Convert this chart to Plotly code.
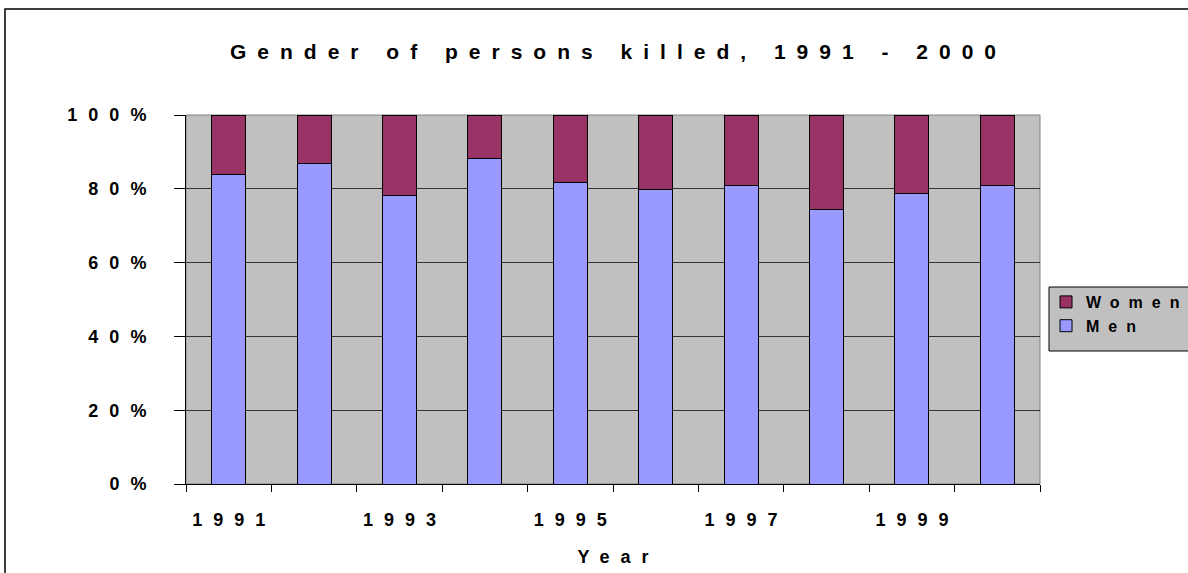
import plotly.graph_objects as go

years = [1991, 1992, 1993, 1994, 1995, 1996, 1997, 1998, 1999, 2000]
men = [0.839, 0.869, 0.783, 0.882, 0.817, 0.799, 0.808, 0.743, 0.788, 0.810]
women = [0.161, 0.131, 0.217, 0.118, 0.183, 0.201, 0.192, 0.257, 0.212, 0.190]
year_labels = [1991, 1993, 1995, 1997, 1999]
y_ticks = [0, 0.2, 0.4, 0.6, 0.8, 1.0]

FONT = "Liberation Sans, Arial, sans-serif"
W, H = 1188, 573
L, R, T, B = 186, 1040, 115, 484
pw, ph = R - L, B - T

def px(x):
    return (x - L) / pw

def py(y):
    return (B - y) / ph

fig = go.Figure()
fig.add_trace(go.Bar(x=years, y=men, name="Men", marker=dict(color="#9999FF", line=dict(color="black", width=1)),
                     legendgroup="m"))
fig.add_trace(go.Bar(x=years, y=women, name="Women", marker=dict(color="#993366", line=dict(color="black", width=1)),
                     legendgroup="w"))

fig.update_layout(
    width=W, height=H,
    margin=dict(l=L, r=W - R, t=T, b=H - B, pad=0, autoexpand=False),
    barmode="stack", bargap=0.6,
    paper_bgcolor="white", plot_bgcolor="#C0C0C0",
    font=dict(family=FONT, color="black", size=18, weight="bold"),
    title=dict(text="Gender of persons killed, 1991 - 2000", x=0.5, xref="paper", xanchor="center",
               y=1 - 52 / H, yref="container", yanchor="middle",
               font=dict(family=FONT, size=21, color="black", weight="bold")),
    showlegend=True,
    legend=dict(x=px(1046), y=py(285), xanchor="left", yanchor="top", bgcolor="rgba(0,0,0,0)",
                borderwidth=0, traceorder="reversed", tracegroupgap=28,
                font=dict(family=FONT, size=16, color="black", weight="bold")),
    xaxis=dict(range=[1990.5, 2000.5], tickmode="array", tickvals=year_labels, ticks="",
               showgrid=False, zeroline=False, showline=True, linecolor="black", linewidth=1,
               ticklabelstandoff=19, automargin=False,
               minor=dict(tickmode="linear", tick0=1990.5, dtick=1, ticks="outside", ticklen=7,
                          tickcolor="black", tickwidth=1, showgrid=False),
               title=dict(text="Year", standoff=21, font=dict(family=FONT, size=18, weight="bold"))),
    yaxis=dict(range=[0, 1], tickmode="array", tickvals=y_ticks, tickformat=".0%",
               ticks="outside", ticklen=11, tickcolor="black", showgrid=True, gridcolor="#333333",
               gridwidth=1, zeroline=False, showline=True, linecolor="black", linewidth=1,
               ticklabelstandoff=24, automargin=False),
    shapes=[
        dict(type="rect", xref="paper", yref="paper", x0=0, x1=1, y0=0, y1=1,
             line=dict(color="#808080", width=1), fillcolor="rgba(0,0,0,0)", layer="below"),
        dict(type="rect", xref="paper", yref="paper", x0=px(1049), x1=px(1215), y0=py(351), y1=py(287),
             line=dict(color="black", width=1), fillcolor="#C0C0C0", layer="below"),
        dict(type="rect", xref="paper", yref="paper", x0=px(5), x1=px(1230), y0=py(600), y1=py(9),
             line=dict(color="black", width=1.5), fillcolor="rgba(0,0,0,0)", layer="above"),
    ],
)

post = """
document.body.style.margin = '0';
var gd = document.getElementById('{plot_id}');
function sp(sel, s, mode){
  gd.querySelectorAll(sel).forEach(function(e){
    e.style.letterSpacing = s + 'px';
    if (mode === 'mid') e.setAttribute('dx', s / 2);
    if (mode === 'end') e.setAttribute('dx', s);
  });
}
sp('.gtitle', 11, 'mid');
sp('.xtick text', 11, 'mid');
sp('.ytick text', 11, 'end');
sp('.xtitle', 11, 'mid');
sp('.legendtext', 9, '');
gd.querySelectorAll('.legend [clip-path]').forEach(function(e){ e.removeAttribute('clip-path'); });
"""

fig.write_html("out.html", post_script=post, config={"displayModeBar": False})
